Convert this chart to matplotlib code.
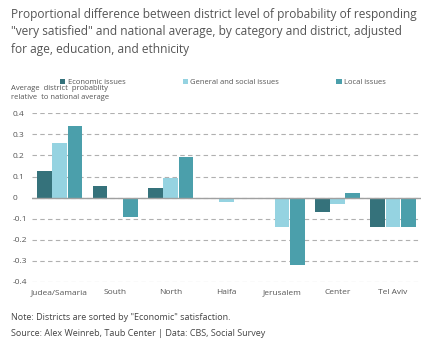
import numpy as np
import matplotlib.pyplot as plt

districts = ["Judea/Samaria", "South", "North", "Haifa", "Jerusalem", "Center", "Tel Aviv"]
economic = [0.124, 0.057, 0.046, 0.0, -0.005, -0.07, -0.14]
general = [0.26, -0.005, 0.092, -0.022, -0.14, -0.032, -0.138]
local = [0.34, -0.094, 0.195, 0.0, -0.32, 0.024, -0.14]

series = [("Economic issues", economic, "#35727b"),
          ("General and social issues", general, "#95d3e1"),
          ("Local issues", local, "#4b9fab")]

plt.rcParams["font.family"] = ["Open Sans", "DejaVu Sans"]

fig = plt.figure(figsize=(4.42, 3.51), dpi=100)
ax = fig.add_axes([0.072, 0.197, 0.88, 0.48])

x = np.arange(len(districts))
w = 0.265
for i, (name, vals, col) in enumerate(series):
    ax.bar(x + (i - 1) * (w + 0.01), vals, w, color=col, label=name, zorder=3)

ax.set_ylim(-0.4, 0.4)
ax.set_xlim(-0.5, len(districts) - 0.5)
ax.set_yticks(np.arange(-0.4, 0.41, 0.1))
ax.set_yticklabels(["-0.4", "-0.3", "-0.2", "-0.1", "0", "0.1", "0.2", "0.3", "0.4"])
ax.set_xticks(x)
ax.set_xticklabels(districts)
ax.tick_params(length=0, labelsize=6, colors="#555555")
ax.tick_params(axis="y", pad=14)
ax.tick_params(axis="x", pad=5)
for lbl in ax.get_yticklabels():
    lbl.set_horizontalalignment("left")
ax.grid(axis="y", color="#b0b0b0", linestyle=(0, (4, 3)), linewidth=0.8, zorder=0)
ax.axhline(0, color="#a0a0a0", linewidth=1, zorder=4)
for s in ax.spines.values():
    s.set_visible(False)

fig.text(0.025, 0.978, "Proportional difference between district level of probability of responding\n"
         "\"very satisfied\" and national average, by category and district, adjusted\n"
         "for age, education, and ethnicity", fontsize=8.6, color="#555555",
         va="top", ha="left", linespacing=1.47)

fig.legend(loc="upper left", bbox_to_anchor=(0.12, 0.795), ncol=3, frameon=False,
           fontsize=5.5, handlelength=0.7, handleheight=0.7, handletextpad=0.3,
           columnspacing=7.5, labelcolor="#555555")

fig.text(0.025, 0.758, "Average  district  probablity\nrelative  to national average",
         fontsize=5.5, color="#555555", va="top", ha="left", linespacing=1.4)

fig.text(0.025, 0.107, "Note: Districts are sorted by \"Economic\" satisfaction.\n"
         "Source: Alex Weinreb, Taub Center | Data: CBS, Social Survey",
         fontsize=6.5, color="#444444", va="top", ha="left", linespacing=1.95)

fig.savefig("out.png", dpi=100)
